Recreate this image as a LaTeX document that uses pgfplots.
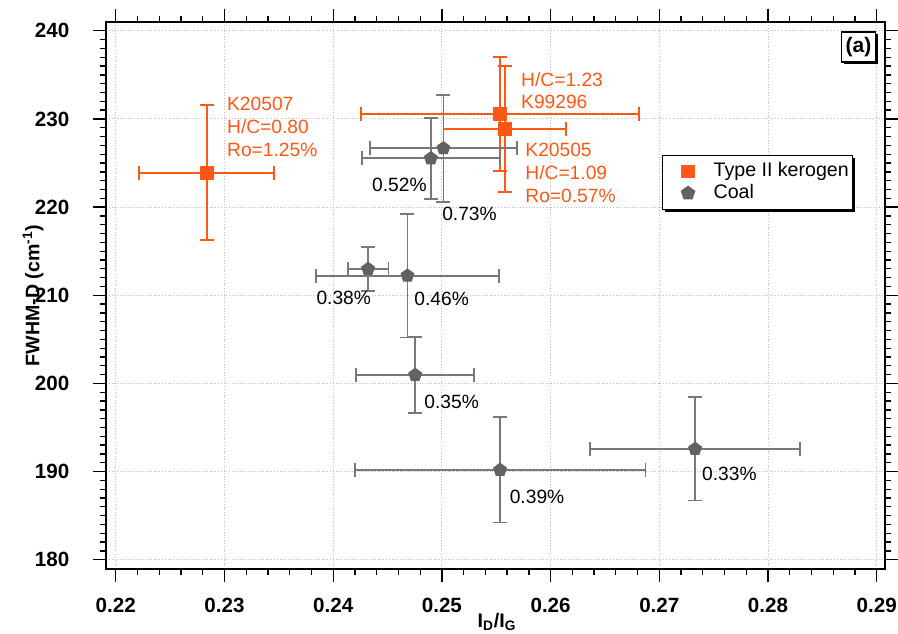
\documentclass[border=0pt]{standalone}
\usepackage{pgfplots}
\pgfplotsset{compat=1.18}
\usepackage{fontspec}
\setmainfont{Liberation Sans}
\usetikzlibrary{shadows}
\definecolor{kor}{RGB}{255,87,20}
\definecolor{cmark}{RGB}{98,98,98}
\definecolor{cbar}{RGB}{120,120,120}
\newcommand{\af}{\fontsize{9.6}{11}\selectfont}
\begin{document}
\begin{tikzpicture}
\begin{axis}[
  scale only axis,
  width=389.5pt, height=273.5pt,
  xmin=0.2191, xmax=0.29076,
  ymin=178.95, ymax=241,
  clip=false,
  axis line style={line width=1pt},
  xtick={0.22,0.23,0.24,0.25,0.26,0.27,0.28,0.29},
  ytick={180,190,200,210,220,230,240},
  minor xtick={0.222,0.224,0.226,0.228,0.232,0.234,0.236,0.238,0.242,0.244,0.246,0.248,0.252,0.254,0.256,0.258,0.262,0.264,0.266,0.268,0.272,0.274,0.276,0.278,0.282,0.284,0.286,0.288},
  minor ytick={181,182,183,184,185,186,187,188,189,191,192,193,194,195,196,197,198,199,201,202,203,204,205,206,207,208,209,211,212,213,214,215,216,217,218,219,221,222,223,224,225,226,227,228,229,231,232,233,234,235,236,237,238,239},
  tick align=outside,
  major tick length=6.65pt,
  minor tick length=3pt,
  every tick/.style={black, line width=0.65pt},
  grid=major,
  major grid style={densely dotted, black!25, line width=0.5pt},
  /pgf/number format/assume math mode=true,
  x tick label style={/pgf/number format/fixed, /pgf/number format/fixed zerofill, /pgf/number format/precision=2},
  tick label style={font=\bfseries\fontsize{10.3}{12}\selectfont},
  xticklabel style={anchor=base, inner sep=0pt, yshift=-15.35pt},
  yticklabel style={anchor=east, inner sep=0pt, xshift=-11.5pt},
  every axis x label/.style={at={(axis description cs:0.502,-0.0969)}, anchor=center},
  every axis y label/.style={at={(axis description cs:-0.0937,0.5)}, rotate=90, anchor=center},
  label style={font=\bfseries\fontsize{9.8}{11}\selectfont},
  xlabel={I\textsubscript{D}/I\textsubscript{G}},
  ylabel={FWHM-D (cm\textsuperscript{-1})},
  legend style={at={(axis description cs:0.7137,0.7569)}, anchor=north west,
    draw=black, line width=0.7pt, fill=white,
    drop shadow={shadow xshift=1.2pt, shadow yshift=-1.2pt, fill=black, opacity=1},
    font=\fontsize{9.8}{11}\selectfont, inner xsep=0pt, inner ysep=3.5pt, row sep=1.8pt,
    /tikz/column sep=0pt,
    nodes={inner ysep=0pt, inner xsep=2pt, text height=7pt, text depth=2pt}},
  legend cell align=left,
  error bars/error bar style={line width=0.9pt},
  error bars/error mark options={rotate=90, mark size=3.5pt, line width=0.9pt},
]
\addlegendimage{legend image code/.code={%
  \path (0pt,0pt) (22.8pt,0pt);
  \pgfsetfillcolor{kor}%
  \pgfpathrectangle{\pgfpoint{9pt}{-3.35pt}}{\pgfpoint{6.7pt}{6.7pt}}%
  \pgfusepath{fill}}}
\addlegendentry{Type II kerogen}
\addlegendimage{legend image code/.code={%
  \path (0pt,0pt) (22.8pt,0pt);
  \begin{scope}[shift={(12.35pt,0pt)}]
  \pgfsetfillcolor{cmark}\pgfsetstrokecolor{cmark}
  \pgfplotmarksize=3.4pt
  \pgfuseplotmark{pentagon*}
  \end{scope}}}
\addlegendentry{Coal}
\addplot[forget plot, only marks, mark=square*, mark size=3.35pt, color=kor, mark options={fill=kor, draw=kor},
  error bars/.cd, x dir=both, x explicit, y dir=both, y explicit]
  coordinates {
  (0.22837,223.9) +- (0.0062,7.65)
  (0.25535,230.56) +- (0.0128,6.46)
  (0.25579,228.85) +- (0.00564,7.14)
  };
\addplot[forget plot, only marks, mark=pentagon*, mark size=3.4pt, color=cbar, mark options={fill=cmark, draw=cmark},
  error bars/.cd, x dir=both, x explicit, y dir=both, y explicit]
  coordinates {
  (0.24898,225.53) +- (0.00633,4.59)
  (0.25014,226.67) +- (0.00678,6.05)
  (0.24321,212.98) +- (0.00187,2.53)
  (0.24683,212.22) +- (0.00839,7.0)
  (0.24754,200.96) +- (0.00544,4.3)
  (0.25535,190.19) +- (0.01337,5.97)
  (0.27329,192.57) +- (0.00966,5.85)
  };
% kerogen annotations
\node[anchor=base west, inner sep=0pt, text=kor, font=\af] at (axis cs:0.23021,230.94) {K20507};
\node[anchor=base west, inner sep=0pt, text=kor, font=\af] at (axis cs:0.23021,228.33) {H/C=0.80};
\node[anchor=base west, inner sep=0pt, text=kor, font=\af] at (axis cs:0.23021,225.76) {Ro=1.25\%};
\node[anchor=base west, inner sep=0pt, text=kor, font=\af] at (axis cs:0.25726,233.66) {H/C=1.23};
\node[anchor=base west, inner sep=0pt, text=kor, font=\af] at (axis cs:0.25726,231.20) {K99296};
\node[anchor=base west, inner sep=0pt, text=kor, font=\af] at (axis cs:0.25765,225.73) {K20505};
\node[anchor=base west, inner sep=0pt, text=kor, font=\af] at (axis cs:0.25765,223.08) {H/C=1.09};
\node[anchor=base west, inner sep=0pt, text=kor, font=\af] at (axis cs:0.25765,220.51) {Ro=0.57\%};
% coal annotations
\node[anchor=base west, inner sep=0pt, font=\af] at (axis cs:0.24355,221.76) {0.52\%};
\node[anchor=base west, inner sep=0pt, font=\af] at (axis cs:0.25000,218.47) {0.73\%};
\node[anchor=base west, inner sep=0pt, font=\af] at (axis cs:0.23843,208.98) {0.38\%};
\node[anchor=base west, inner sep=0pt, font=\af] at (axis cs:0.24744,208.83) {0.46\%};
\node[anchor=base west, inner sep=0pt, font=\af] at (axis cs:0.24836,197.12) {0.35\%};
\node[anchor=base west, inner sep=0pt, font=\af] at (axis cs:0.25621,186.42) {0.39\%};
\node[anchor=base west, inner sep=0pt, font=\af] at (axis cs:0.27391,188.99) {0.33\%};
% panel label
\node[draw=black, line width=0.7pt, fill=white, minimum width=17pt, minimum height=15pt, inner sep=0pt,
  drop shadow={shadow xshift=1pt, shadow yshift=-1pt, fill=black, opacity=1},
  font=\bfseries\fontsize{10.5}{12}\selectfont] at (rel axis cs:0.966,0.9543) {(a)};
\end{axis}
\pgfresetboundingbox
\path ([xshift=-53pt,yshift=-32.5pt]current axis.south west) rectangle ([xshift=6.5pt,yshift=11pt]current axis.north east);
\end{tikzpicture}
\end{document}
